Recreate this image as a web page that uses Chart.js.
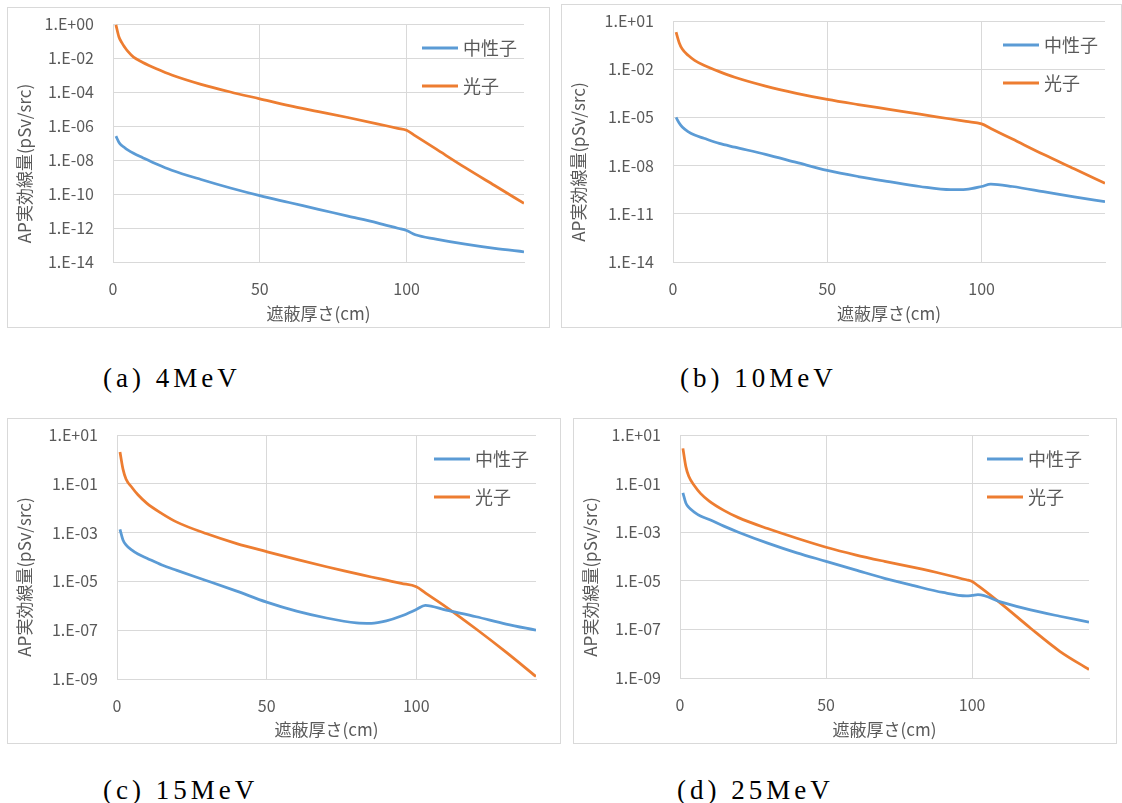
<!DOCTYPE html>
<html>
<head>
<meta charset="utf-8">
<script src="https://cdn.jsdelivr.net/npm/chart.js@4.4.0/dist/chart.umd.min.js"></script>
<style>
  body { margin: 0; background: #fff; width: 1122px; height: 803px; position: relative; overflow: hidden; }
  .frame { position: absolute; border: 1px solid #d9d9d9; box-sizing: border-box; }
  .frame canvas { position: absolute; left: 0; top: 0; }
  .caption { position: absolute; font-family: 'Liberation Serif', serif; font-size: 27px; letter-spacing: 4px;
             color: #000; line-height: 30px; white-space: nowrap; }
</style>
</head>
<body>
<div class="frame" style="left:7px;top:7px;width:543px;height:321px"><canvas id="chartA"></canvas></div>
<div class="frame" style="left:561px;top:4px;width:561px;height:324px"><canvas id="chartB"></canvas></div>
<div class="frame" style="left:7px;top:418px;width:554px;height:326px"><canvas id="chartC"></canvas></div>
<div class="frame" style="left:573px;top:418px;width:544px;height:326px"><canvas id="chartD"></canvas></div>

<div class="caption" style="left:103px;top:363px">(a) 4MeV</div>
<div class="caption" style="left:680px;top:363px">(b) 10MeV</div>
<div class="caption" style="left:103px;top:775px">(c) 15MeV</div>
<div class="caption" style="left:677px;top:775px">(d) 25MeV</div>

<script>
// Shield thickness (cm) and dose per source particle
const thickA = [1, 2, 3, 4, 5, 7, 10, 15, 20, 30, 40, 50, 60, 70, 80, 90, 97, 100, 103, 110, 120, 130, 140];
const neutronA = [2.51e-7, 1.12e-7, 7.08e-8, 5.25e-8, 3.98e-8, 2.51e-8, 1.41e-8, 5.62e-9, 2.51e-9, 7.08e-10, 2.24e-10, 7.94e-11,
                  3.16e-11, 1.26e-11, 5.01e-12, 2.0e-12, 9.66e-13, 7.08e-13, 3.98e-13, 2.24e-13, 1.12e-13, 6.31e-14, 3.98e-14];
const photonA = [8.91e-1, 1.78e-1, 7.94e-2, 4.27e-2, 2.51e-2, 1.12e-2, 5.62e-3, 2.24e-3, 1.0e-3, 2.82e-4, 1.0e-4, 3.98e-5,
                 1.58e-5, 7.08e-6, 3.16e-6, 1.35e-6, 7.24e-7, 5.62e-7, 2.63e-7, 4.47e-8, 3.55e-9, 3.16e-10, 2.82e-11];

const thickB = [1, 2, 3, 5, 7, 10, 15, 20, 30, 40, 50, 60, 70, 80, 90, 95, 100, 103, 110, 120, 130, 140];
const neutronB = [1.0e-5, 4.47e-6, 2.51e-6, 1.26e-6, 7.94e-7, 5.01e-7, 2.4e-7, 1.41e-7, 5.01e-8, 1.58e-8, 5.01e-9,
                  2.09e-9, 1.0e-9, 5.01e-10, 3.16e-10, 3.31e-10, 5.01e-10, 7.08e-10, 5.01e-10, 2.4e-10, 1.12e-10, 5.62e-11];
const photonB = [2.0, 4.47e-1, 1.78e-1, 7.08e-2, 3.55e-2, 1.78e-2, 7.08e-3, 3.16e-3, 8.91e-4, 3.16e-4, 1.32e-4,
                 6.31e-5, 3.16e-5, 1.58e-5, 7.94e-6, 5.62e-6, 3.98e-6, 2.04e-6, 4.47e-7, 5.01e-8, 6.31e-9, 7.94e-10];

const thickC = [1, 2, 3, 5, 7, 10, 15, 20, 30, 40, 50, 60, 70, 80, 85, 90, 95, 100, 103, 110, 120, 130, 140];
const neutronC = [1.35e-3, 5.01e-4, 3.16e-4, 1.91e-4, 1.32e-4, 8.91e-5, 4.68e-5, 2.82e-5, 1.07e-5, 3.98e-6, 1.41e-6,
                  6.03e-7, 3.16e-7, 2.0e-7, 1.91e-7, 2.4e-7, 3.8e-7, 7.08e-7, 1.05e-6, 6.61e-7, 3.55e-7, 1.78e-7, 1.0e-7];
const photonC = [2.0, 3.98e-1, 1.58e-1, 7.08e-2, 3.55e-2, 1.58e-2, 6.03e-3, 2.69e-3, 8.91e-4, 3.55e-4, 1.66e-4,
                 7.94e-5, 3.98e-5, 2.09e-5, 1.51e-5, 1.12e-5, 8.32e-6, 6.03e-6, 3.39e-6, 8.91e-7, 1.12e-7, 1.26e-8, 1.26e-9];

const thickD = [1, 2, 3, 5, 7, 10, 15, 20, 30, 40, 50, 60, 70, 80, 90, 98, 100, 102, 110, 120, 130, 140];
const neutronD = [4.17e-2, 1.58e-2, 1.05e-2, 6.61e-3, 4.68e-3, 3.31e-3, 1.78e-3, 1.0e-3, 3.55e-4, 1.41e-4, 6.31e-5,
                  2.82e-5, 1.26e-5, 6.31e-6, 3.31e-6, 2.4e-6, 2.51e-6, 2.69e-6, 1.32e-6, 6.31e-7, 3.47e-7, 2.0e-7];
const photonD = [2.82, 5.01e-1, 2.0e-1, 7.94e-2, 3.98e-2, 1.91e-2, 7.94e-3, 3.98e-3, 1.41e-3, 5.62e-4, 2.4e-4,
                 1.17e-4, 6.31e-5, 3.55e-5, 1.91e-5, 1.1e-5, 9.33e-6, 6.31e-6, 1.12e-6, 1.12e-7, 1.26e-8, 2.24e-9];

// Tick values and labels
const xTicks = [0, 50, 100];
const yTicksA = [1e0, 1e-2, 1e-4, 1e-6, 1e-8, 1e-10, 1e-12, 1e-14];
const yLabelsA = ['1.E+00', '1.E-02', '1.E-04', '1.E-06', '1.E-08', '1.E-10', '1.E-12', '1.E-14'];
const yTicksB = [1e1, 1e-2, 1e-5, 1e-8, 1e-11, 1e-14];
const yLabelsB = ['1.E+01', '1.E-02', '1.E-05', '1.E-08', '1.E-11', '1.E-14'];
const yTicksCD = [1e1, 1e-1, 1e-3, 1e-5, 1e-7, 1e-9];
const yLabelsCD = ['1.E+01', '1.E-01', '1.E-03', '1.E-05', '1.E-07', '1.E-09'];

const seriesNames = ['中性子', '光子'];
const xTitle = '遮蔽厚さ(cm)';
const yTitle = 'AP実効線量(pSv/src)';

Chart.defaults.font.family = "'Noto Sans CJK JP', 'Open Sans', sans-serif";
Chart.defaults.color = '#595959';

// Excel-like y title (centred on the frame) and legend drawn over the plot area
const excelDeco = {
    id: 'excelDeco',
    afterDraw(chart) {
        const ctx = chart.ctx;
        const area = chart.chartArea;
        ctx.save();
        ctx.fillStyle = '#595959';
        ctx.font = "17px 'Noto Sans CJK JP', sans-serif";
        ctx.textAlign = 'center';
        ctx.textBaseline = 'middle';
        ctx.translate(17, chart.height / 2 - 4);
        ctx.rotate(-Math.PI / 2);
        ctx.fillText(yTitle, 0, 0);
        ctx.restore();

        ctx.save();
        ctx.font = "18px 'Noto Sans CJK JP', sans-serif";
        ctx.textBaseline = 'middle';
        chart.data.datasets.forEach((ds, i) => {
            const y = area.top + 24 + i * 38;
            ctx.strokeStyle = ds.borderColor;
            ctx.lineWidth = 3;
            ctx.beginPath();
            ctx.moveTo(area.right - 102, y);
            ctx.lineTo(area.right - 66, y);
            ctx.stroke();
            ctx.fillStyle = '#595959';
            ctx.fillText(ds.label, area.right - 61, y);
        });
        ctx.restore();
    }
};

function makeChart(id, box, thick, neutron, photon, yTicks, yLabels) {
    const canvas = document.getElementById(id);
    canvas.width = box.w;
    canvas.height = box.h;
    return new Chart(canvas.getContext('2d'), {
        type: 'line',
        data: {
            datasets: [
                {
                    label: seriesNames[0],
                    data: thick.map((x, i) => ({ x: x, y: neutron[i] })),
                    borderColor: '#5B9BD5',
                    borderWidth: 2.75,
                    pointRadius: 0,
                    cubicInterpolationMode: 'monotone'
                },
                {
                    label: seriesNames[1],
                    data: thick.map((x, i) => ({ x: x, y: photon[i] })),
                    borderColor: '#ED7D31',
                    borderWidth: 2.75,
                    pointRadius: 0,
                    cubicInterpolationMode: 'monotone'
                }
            ]
        },
        options: {
            responsive: false,
            animation: false,
            devicePixelRatio: 1,
            layout: { padding: { left: 0, right: box.right, top: box.top, bottom: 0 } },
            plugins: {
                legend: { display: false },
                tooltip: { enabled: false }
            },
            scales: {
                x: {
                    type: 'linear',
                    min: 0,
                    max: 140,
                    afterBuildTicks: s => { s.ticks = xTicks.map(v => ({ value: v })); },
                    afterFit: s => {
                        s.height = box.bottom;
                        s.paddingLeft = 0;
                        s.paddingRight = 0;
                    },
                    ticks: { padding: 17, font: { size: 16 } },
                    grid: { color: '#d9d9d9', drawTicks: false },
                    border: { color: '#d9d9d9' },
                    title: {
                        display: true,
                        text: xTitle,
                        font: { size: 17 },
                        padding: { top: 0, bottom: 3 }
                    }
                },
                y: {
                    type: 'logarithmic',
                    min: yTicks[yTicks.length - 1],
                    max: yTicks[0],
                    afterBuildTicks: s => { s.ticks = yTicks.map(v => ({ value: v })); },
                    afterFit: s => {
                        s.width = box.left;
                        s.paddingTop = 0;
                        s.paddingBottom = 0;
                    },
                    ticks: {
                        padding: 19,
                        font: { size: 16 },
                        callback: (v, i) => yLabels[i]
                    },
                    grid: { color: '#d9d9d9', drawTicks: false },
                    border: { color: '#d9d9d9' }
                }
            }
        },
        plugins: [excelDeco]
    });
}

makeChart('chartA', { w: 541, h: 319, left: 105, right: 25, top: 16, bottom: 65 }, thickA, neutronA, photonA, yTicksA, yLabelsA);
makeChart('chartB', { w: 559, h: 322, left: 111, right: 16, top: 16, bottom: 65 }, thickB, neutronB, photonB, yTicksB, yLabelsB);
makeChart('chartC', { w: 552, h: 324, left: 109, right: 24, top: 16, bottom: 64 }, thickC, neutronC, photonC, yTicksCD, yLabelsCD);
makeChart('chartD', { w: 542, h: 324, left: 106, right: 27, top: 16, bottom: 65 }, thickD, neutronD, photonD, yTicksCD, yLabelsCD);
</script>
</body>
</html>
